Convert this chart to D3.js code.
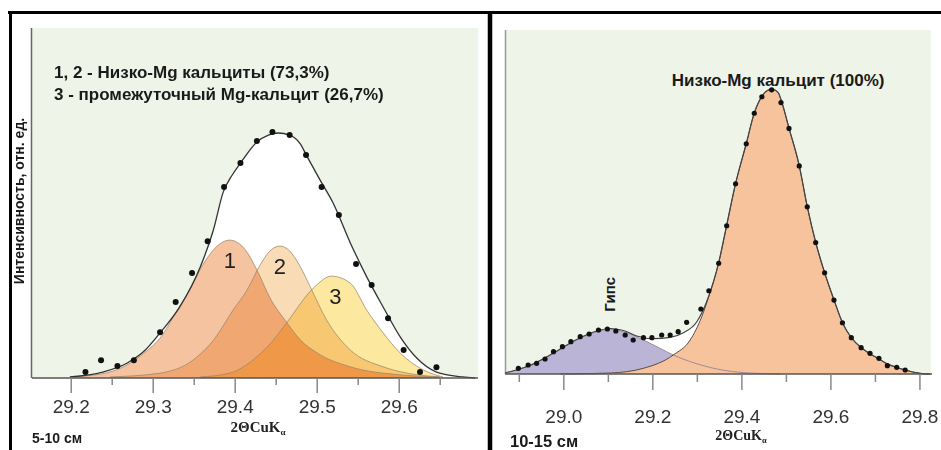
<!DOCTYPE html>
<html><head><meta charset="utf-8">
<script src="https://cdn.jsdelivr.net/npm/d3@7/dist/d3.min.js"></script>
<style>body{margin:0;background:#fff}svg{display:block}</style>
</head><body><svg id="c" width="941" height="450"></svg>
<script>
// ---------------- DATA ----------------
// Left panel (5-10 см)
const leftTicksMajor = [29.2, 29.3, 29.4, 29.5, 29.6];
const leftTicksMinor = [29.25, 29.35, 29.45, 29.55, 29.65];
const leftDots = [
  [29.218,1.7],[29.237,5.1],[29.257,3.4],[29.277,5.1],[29.309,13.1],[29.328,21.7],
  [29.348,30.0],[29.367,39.1],[29.387,54.6],[29.407,61.4],[29.427,67.7],[29.446,70.3],
  [29.467,69.4],[29.487,63.7],[29.506,54.6],[29.527,46.6],[29.548,32.6],[29.567,26.6],
  [29.587,17.1],[29.606,8.0],[29.626,1.7],[29.646,3.1]
];
const leftEnvelope = [
  [29.199,0.3],[29.239,1.7],[29.269,4.3],[29.291,8.0],[29.309,12.9],[29.333,20.3],
  [29.358,31.7],[29.374,42.3],[29.386,53.1],[29.397,58.0],[29.408,61.7],[29.427,67.4],
  [29.441,69.4],[29.453,70.0],[29.467,69.4],[29.480,66.9],[29.488,63.4],[29.504,56.6],
  [29.520,50.0],[29.541,38.6],[29.561,28.9],[29.581,20.3],[29.602,11.7],[29.622,5.7],
  [29.646,1.7],[29.678,0.3],[29.693,0]
];
const leftPeak1 = [
  [29.199,0.3],[29.236,1.1],[29.266,3.4],[29.291,7.4],[29.309,11.4],[29.330,19.4],
  [29.345,25.1],[29.361,32.3],[29.376,37.1],[29.394,39.4],[29.413,36.6],[29.427,30.9],
  [29.443,22.9],[29.464,15.7],[29.480,10.9],[29.501,7.1],[29.541,3.2],[29.602,0.9],[29.650,0.3]
];
const leftPeak2 = [
  [29.248,0.3],[29.309,1.4],[29.349,5.1],[29.376,11.4],[29.398,19.4],[29.415,25.1],
  [29.431,32.3],[29.443,36.3],[29.455,37.7],[29.467,36.3],[29.480,31.8],[29.492,26.1],
  [29.512,16.6],[29.541,8.0],[29.581,3.2],[29.610,1.4],[29.650,0.3]
];
const leftPeak3 = [
  [29.358,0.3],[29.394,1.4],[29.422,5.1],[29.443,9.7],[29.464,16.0],[29.496,25.7],
  [29.518,29.1],[29.541,27.1],[29.561,19.4],[29.581,12.9],[29.602,7.1],[29.630,2.3],[29.654,0.3]
];
const leftPeakLabels = ["1", "2", "3"];
const leftLegend = ["1, 2 - Низко-Mg кальциты (73,3%)", "3 - промежуточный Mg-кальцит (26,7%)"];

// Right panel (10-15 см)
const rightTicksMajor = [29.0, 29.2, 29.4, 29.6, 29.8];
const rightTicksMinor = [28.9, 29.1, 29.3, 29.5, 29.7];
const rightDots = [
  [28.899,1.66],[28.921,2.62],[28.940,3.11],[28.959,4.36],[28.978,6.48],[28.998,7.94],
  [29.017,9.39],[29.038,10.84],[29.058,11.63],[29.079,12.79],[29.099,13.08],[29.118,12.5],
  [29.139,11.34],[29.157,9.88],[29.180,10.55],[29.199,10.55],[29.221,11.34],[29.240,11.34],
  [29.258,12.3],[29.277,15.03],[29.309,18.9],[29.327,24.2],[29.349,32.2],[29.367,43.1],
  [29.387,55.3],[29.411,66.9],[29.429,75.8],[29.446,80.6],[29.468,82.6],[29.489,78.9],
  [29.507,71.4],[29.530,60.5],[29.548,48.6],[29.567,38.2],[29.587,29.4],[29.608,21.5],
  [29.627,14.9],[29.647,10.55],[29.669,7.65],[29.689,6.02],[29.709,4.56],[29.728,2.41],
  [29.749,1.95],[29.768,1.16]
];
const rightGypsum = [
  [28.869,0.29],[28.895,1.16],[28.925,2.62],[28.978,6.02],[29.030,9.88],[29.075,12.3],
  [29.105,13.0],[29.135,12.3],[29.180,9.88],[29.217,7.47],[29.247,5.52],[29.285,3.6],
  [29.330,1.89],[29.397,0.49],[29.487,0]
];
const rightCalcite = [
  [28.993,0],[29.105,0.29],[29.180,1.66],[29.247,5.52],[29.285,9.88],[29.311,16.66],
  [29.330,23.84],[29.349,32.18],[29.367,43.1],[29.387,55.3],[29.411,66.9],[29.429,75.8],
  [29.446,80.6],[29.458,82.3],[29.469,82.7],[29.483,81.7],[29.489,79.7],[29.507,71.4],
  [29.530,60.5],[29.548,48.6],[29.567,38.2],[29.587,29.4],[29.608,21.5],[29.627,14.9],
  [29.647,10.55],[29.669,7.65],[29.689,5.81],[29.709,4.36],[29.728,2.91],[29.749,1.89],
  [29.768,1.16],[29.801,0.2],[29.824,0]
];
const rightEnvelope = [
  [28.869,0.29],[28.895,1.16],[28.925,2.47],[28.978,6.10],[29.030,10.03],[29.075,12.5],
  [29.105,13.23],[29.135,12.65],[29.165,11.05],[29.202,10.26],[29.240,10.67],[29.270,12.0],
  [29.300,15.2],[29.322,21.0],[29.349,32.4],[29.367,43.3],[29.387,55.4],[29.411,67.0],
  [29.429,75.9],[29.446,80.7],[29.458,82.4],[29.469,82.8],[29.483,81.8],[29.489,79.8],
  [29.507,71.5],[29.530,60.6],[29.548,48.7],[29.567,38.3],[29.587,29.5],[29.608,21.6],
  [29.627,15.0],[29.647,10.6],[29.669,7.7],[29.689,5.9],[29.709,4.4],[29.728,2.95],
  [29.749,1.9],[29.768,1.16],[29.801,0.2],[29.824,0]
];
const rightTitle = "Низко-Mg кальцит (100%)";
const gypsumLabel = "Гипс";
const panelLabels = ["5-10 см", "10-15 см"];
const yAxisTitle = "Интенсивность, отн. ед.";

// ---------------- DRAW ----------------
const svg = d3.select("#c");
const SANS = "'Liberation Sans', Arial, sans-serif";
const SERIF = "'Liberation Serif', 'Times New Roman', serif";
const GREEN = "#eef4e7";

const xL = d3.scaleLinear().domain([29.1528, 29.6967]).range([32, 478]);
const yL = d3.scaleLinear().domain([0, 100]).range([378, 28]);
const xR = d3.scaleLinear().domain([28.869, 29.826]).range([505, 931]);
const yR = d3.scaleLinear().domain([0, 100]).range([374, 30]);

// outer frame
svg.append("line").attr("x1", 8).attr("x2", 941).attr("y1", 12.5).attr("y2", 12.5)
  .attr("stroke", "#000").attr("stroke-width", 3);
svg.append("line").attr("x1", 10.5).attr("x2", 10.5).attr("y1", 11).attr("y2", 450)
  .attr("stroke", "#000").attr("stroke-width", 3);
svg.append("line").attr("x1", 490).attr("x2", 490).attr("y1", 11).attr("y2", 450)
  .attr("stroke", "#000").attr("stroke-width", 4.5);

function axisLine(x, y) {
  return d3.line().x(d => x(d[0])).y(d => y(d[1])).curve(d3.curveMonotoneX);
}
function axisArea(x, y) {
  return d3.area().x(d => x(d[0])).y0(y(0)).y1(d => y(d[1])).curve(d3.curveMonotoneX);
}

function drawXAxis(g, x, yPix, majors, minors, majorLen, minorLen, pad, x0, x1) {
  g.append("line").attr("x1", x0).attr("x2", x1).attr("y1", yPix).attr("y2", yPix)
    .attr("stroke", "#555").attr("stroke-width", 1.5);
  const maj = g.append("g").attr("transform", `translate(0,${yPix})`)
    .call(d3.axisBottom(x).tickValues(majors).tickSize(majorLen).tickPadding(pad).tickFormat(d3.format(".1f")));
  maj.select(".domain").remove();
  maj.selectAll(".tick line").attr("stroke", "#888").attr("stroke-width", 1.5);
  maj.selectAll(".tick text").attr("font-family", SANS).attr("font-size", 19).attr("fill", "#333");
  const mn = g.append("g").attr("transform", `translate(0,${yPix})`)
    .call(d3.axisBottom(x).tickValues(minors).tickSize(minorLen).tickFormat(""));
  mn.select(".domain").remove();
  mn.selectAll(".tick line").attr("stroke", "#888").attr("stroke-width", 1.5);
}

function axisTitle(g, cx, baseline, size) {
  const t = g.append("text").attr("x", cx).attr("y", baseline).attr("text-anchor", "middle")
    .attr("font-family", SERIF).attr("font-weight", "bold").attr("font-size", size).attr("fill", "#222");
  t.append("tspan").text("2ΘCuK");
  t.append("tspan").attr("font-size", size * 0.6).attr("dy", 3).text("α");
}

// ===== LEFT PANEL =====
const gl = svg.append("g");
gl.append("rect").attr("x", 32).attr("y", 28).attr("width", 446).attr("height", 350).attr("fill", GREEN);
gl.append("line").attr("x1", 31.5).attr("x2", 31.5).attr("y1", 28).attr("y2", 378)
  .attr("stroke", "#666").attr("stroke-width", 1.5);

const lineL = axisLine(xL, yL), areaL = axisArea(xL, yL);
gl.append("path").datum(leftEnvelope).attr("d", areaL).attr("fill", "#fff");
const blend = gl.append("g").style("isolation", "isolate");
const peaksL = [leftPeak1, leftPeak2, leftPeak3];
const peakFills = ["#f6c3a0", "#f9dbb6", "#fde8a0"];
peaksL.forEach((p, i) => {
  blend.append("path").datum(p).attr("d", areaL).attr("fill", peakFills[i])
    .style("mix-blend-mode", "multiply");
});
peaksL.forEach(p => {
  gl.append("path").datum(p).attr("d", lineL).attr("fill", "none")
    .attr("stroke", "#9b8468").attr("stroke-opacity", 0.75).attr("stroke-width", 1);
});
gl.append("path").datum(leftEnvelope).attr("d", lineL).attr("fill", "none")
  .attr("stroke", "#333").attr("stroke-width", 1.3);
gl.selectAll("circle.d").data(leftDots).join("circle")
  .attr("cx", d => xL(d[0])).attr("cy", d => yL(d[1])).attr("r", 3).attr("fill", "#111");

// peak number labels below apex
peaksL.forEach((p, i) => {
  const apex = p.reduce((a, b) => (b[1] > a[1] ? b : a));
  gl.append("text").attr("x", xL(apex[0]) + (i === 2 ? 4 : 0)).attr("y", yL(apex[1]) + 28)
    .attr("text-anchor", "middle").attr("font-family", SANS).attr("font-size", 22).attr("fill", "#222")
    .text(leftPeakLabels[i]);
});

leftLegend.forEach((t, i) => {
  gl.append("text").attr("x", 54).attr("y", 78 + i * 22).attr("font-family", SANS)
    .attr("font-weight", "bold").attr("font-size", 17).attr("fill", "#1a1a1a").text(t);
});

drawXAxis(gl, xL, 378, leftTicksMajor, leftTicksMinor, 15, 7, 7, 32, 478);
axisTitle(gl, 258, 432, 15);
gl.append("text").attr("x", 32).attr("y", 443).attr("font-family", SANS).attr("font-weight", "bold")
  .attr("font-size", 14).attr("fill", "#1a1a1a").text(panelLabels[0]);
gl.append("text").attr("transform", "translate(24,201) rotate(-90)").attr("text-anchor", "middle")
  .attr("font-family", SANS).attr("font-weight", "bold").attr("font-size", 14).attr("fill", "#1a1a1a")
  .text(yAxisTitle);

// ===== RIGHT PANEL =====
const gr = svg.append("g");
gr.append("rect").attr("x", 505).attr("y", 30).attr("width", 426).attr("height", 344).attr("fill", GREEN);
gr.append("line").attr("x1", 505.5).attr("x2", 505.5).attr("y1", 30).attr("y2", 374)
  .attr("stroke", "#999").attr("stroke-width", 1.5);

const lineR = axisLine(xR, yR), areaR = axisArea(xR, yR);
gr.append("path").datum(rightEnvelope).attr("d", areaR).attr("fill", "#fff");
gr.append("path").datum(rightGypsum).attr("d", areaR).attr("fill", "#bab5d6");
gr.append("path").datum(rightCalcite).attr("d", areaR).attr("fill", "#f7c39d");
gr.append("path").datum(rightGypsum).attr("d", lineR).attr("fill", "none")
  .attr("stroke", "#a08a98").attr("stroke-width", 1);
gr.append("path").datum(rightCalcite).attr("d", lineR).attr("fill", "none")
  .attr("stroke", "#5a4a40").attr("stroke-width", 1);
gr.append("path").datum(rightEnvelope).attr("d", lineR).attr("fill", "none")
  .attr("stroke", "#444").attr("stroke-width", 1.2);
gr.selectAll("circle.d").data(rightDots).join("circle")
  .attr("cx", d => xR(d[0])).attr("cy", d => yR(d[1])).attr("r", 2.6).attr("fill", "#111");

const calApex = rightCalcite.reduce((a, b) => (b[1] > a[1] ? b : a));
gr.append("text").attr("x", xR(calApex[0]) + 6).attr("y", yR(calApex[1]) - 4).attr("text-anchor", "middle")
  .attr("font-family", SANS).attr("font-weight", "bold").attr("font-size", 17).attr("fill", "#1a1a1a")
  .text(rightTitle);
const gypApex = rightGypsum.reduce((a, b) => (b[1] > a[1] ? b : a));
gr.append("text").attr("transform", `translate(${xR(gypApex[0]) + 5},${yR(gypApex[1]) - 35}) rotate(-90)`)
  .attr("text-anchor", "middle").attr("font-family", SANS).attr("font-weight", "bold")
  .attr("font-size", 15).attr("fill", "#1a1a1a").text(gypsumLabel);

drawXAxis(gr, xR, 374, rightTicksMajor, rightTicksMinor, 16, 8, 20, 505, 932);
axisTitle(gr, 741, 440, 14);
gr.append("text").attr("x", 510).attr("y", 447).attr("font-family", SANS).attr("font-weight", "bold")
  .attr("font-size", 16.5).attr("fill", "#1a1a1a").text(panelLabels[1]);
</script></body></html>
